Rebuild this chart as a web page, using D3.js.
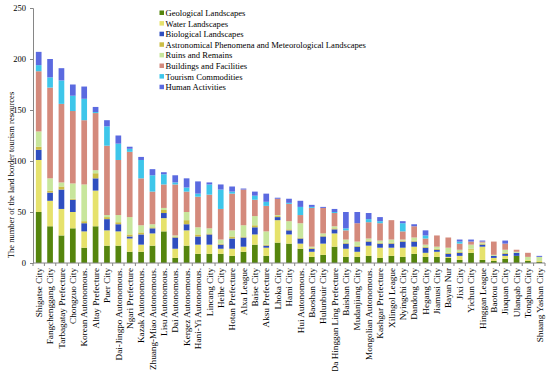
<!DOCTYPE html>
<html>
<head>
<meta charset="utf-8">
<script src="https://cdn.jsdelivr.net/npm/d3@7"></script>
<style>
  body { margin: 0; background: #fff; }
  text { font-family: "Liberation Serif", "Times New Roman", serif; fill: #000; }
</style>
</head>
<body>
<svg id="svg"></svg>
<script>
/**
 * DATA
 * */
const cities = ["Shigatse City", "Fangchenggang City", "Tarbagatay Prefecture", "Chongzuo City",
  "Korean Autonomous.", "Altay Prefecture", "Puer City", "Dai-Jingpo Autonomous.", "Ngari Prefecture",
  "Kazak Autonomous.", "Zhuang-Miao Autonomous.", "Lisu Autonomous.", "Dai Autonomous.",
  "Kergez Autonomous.", "Hani-Yi Autonomous.", "Lincang City", "Heihe City", "Hotan Prefecture",
  "Alxa League", "Baise City", "Aksu Prefecture", "Lhoka City", "Hami City", "Hui Autonomous.",
  "Baoshan City", "Hulunbuir City", "Da Hinggan Ling Prefecture", "Baishan City", "Mudanjiang City",
  "Mongolian Autonomous.", "Kashgar Prefecture", "Xilingol League", "Nyingchi City", "Dandong City",
  "Hegang City", "Jiamusi City", "Bayan Nur", "Jixi City", "Yichun City", "Hinggan League",
  "Baotou City", "Jiuquan City", "Ulanqab City", "Tonghua City", "Shuang Yashan City"];

const seriesNames = ["Geological Landscapes", "Water Landscapes", "Biological Landscapes",
  "Astronomical Phenomena and Meteorological Landscapes", "Ruins and Remains",
  "Buildings and Facilities", "Tourism Commodities", "Human Activities"];

const geological   = [50,36,27,34,15,36,17,17,11,11,17,31,5,17,9,9,9,7,11,18,7,20,19,14,6,8,16,6,6,7,5,7,6,9,6,6,5,3,10,3,2,4,7,2,1];
const water        = [51,25,26,16,16,35,15,14,13,7,12,13,9,15,9,9,5,7,5,10,8,22,9,5,5,11,13,8,5,10,10,8,9,7,4,5,1,4,3,13,3,3,0,1,1];
const biological   = [10,8,19,12,8,12,11,7,2,10,5,5,11,6,8,10,4,10,9,7,2,3,4,5,3,7,4,5,5,4,4,4,6,5,5,2,3,3,0,2,2,2,3,0,0];
const astronomical = [3,2,3,1,2,5,2,2,2,2,1,3,1,4,2,1,1,2,1,2,1,1,1,1,1,1,1,1,1,1,1,1,1,1,1,1,1,1,1,1,0,1,0,0,0];
const ruins        = [15,12,4,15,36,3,2,7,17,7,3,2,1,8,7,5,4,6,11,9,13,1,8,14,1,2,2,3,4,2,2,3,1,3,2,2,5,2,4,1,1,3,1,3,4];
const buildings    = [59,89,77,71,63,56,68,54,64,46,32,23,50,20,30,33,30,36,35,16,25,16,17,8,38,25,13,9,18,16,17,19,8,11,6,11,10,6,3,1,13,6,2,4,0];
const commodities  = [6,10,23,15,21,1,19,16,3,18,16,10,2,4,3,10,19,2,0,4,4,0,1,8,1,0,1,2,0,3,2,0,8,0,3,0,0,2,0,0,0,0,0,0,0];
const human        = [13,18,12,11,12,5,6,8,2,3,6,2,7,9,12,2,5,5,1,4,8,1,4,6,2,1,3,16,11,6,4,0,2,2,5,0,0,2,2,1,0,3,0,0,1];

const yTicks = [0, 50, 100, 150, 200, 250];
const colors = ["#55850d", "#e6e26c", "#2f4ec0", "#cbbd45", "#c8e69c", "#d48a7c", "#3ec6ea", "#5b6ae0"];

/**
 * CONSTANTS
 * */
const width = 550,
  height = 371,
  margin = { top: 8, bottom: 108, left: 33, right: 5 };

const columns = [geological, water, biological, astronomical, ruins, buildings, commodities, human];
const table = cities.map((c, i) => {
  const row = { city: c };
  seriesNames.forEach((s, j) => row[s] = columns[j][i]);
  return row;
});

const svg = d3.select("#svg")
  .attr("width", width)
  .attr("height", height);

const xScale = d3.scaleBand()
  .domain(cities)
  .range([margin.left, width - margin.right])
  .paddingInner(0.5)
  .paddingOuter(0.25);

const yScale = d3.scaleLinear()
  .domain([0, 250])
  .range([height - margin.bottom, margin.top]);

const stacked = d3.stack().keys(seriesNames)(table);

// bars
svg.append("g")
  .selectAll("g")
  .data(stacked)
  .join("g")
  .attr("fill", (d, i) => colors[i])
  .selectAll("rect")
  .data(d => d)
  .join("rect")
  .attr("x", d => xScale(d.data.city))
  .attr("width", xScale.bandwidth())
  .attr("y", d => yScale(d[1]))
  .attr("height", d => yScale(d[0]) - yScale(d[1]));

// y axis
const yAxis = svg.append("g")
  .attr("transform", `translate(${margin.left},0)`)
  .call(d3.axisLeft(yScale).tickValues(yTicks).tickSize(3).tickPadding(4));
yAxis.select(".domain").attr("stroke", "#868686");
yAxis.selectAll(".tick line").attr("stroke", "#868686");
yAxis.selectAll("text")
  .style("font-size", "8.5px")
  .style("font-family", "Liberation Serif, serif");

// x axis, ticks sit between categories
const x0 = margin.left, x1 = width - margin.right, yBase = yScale(0);
svg.append("line")
  .attr("x1", x0).attr("x2", x1)
  .attr("y1", yBase).attr("y2", yBase)
  .attr("stroke", "#868686");

svg.append("g")
  .selectAll("line")
  .data(d3.range(cities.length + 1))
  .join("line")
  .attr("x1", i => x0 + i * xScale.step())
  .attr("x2", i => x0 + i * xScale.step())
  .attr("y1", yBase)
  .attr("y2", yBase + 3)
  .attr("stroke", "#868686");

svg.append("g")
  .selectAll("text")
  .data(cities)
  .join("text")
  .attr("transform", d => `translate(${xScale(d) + xScale.bandwidth() / 2 + 3.2},${yBase + 5}) rotate(-90)`)
  .attr("text-anchor", "end")
  .style("font-size", "9.2px")
  .text(d => d);

// y axis title
svg.append("text")
  .attr("transform", "translate(14,175) rotate(-90)")
  .attr("text-anchor", "middle")
  .style("font-size", "8.5px")
  .text("The number of  the land border tourism resources");

// legend
const legend = svg.append("g")
  .attr("transform", "translate(159.5,13)")
  .selectAll("g")
  .data(seriesNames)
  .join("g")
  .attr("transform", (d, i) => `translate(0,${i * 10.6})`);

legend.append("rect")
  .attr("x", 0).attr("y", -2.5)
  .attr("width", 4.5).attr("height", 4.5)
  .attr("fill", (d, i) => colors[i]);

legend.append("text")
  .attr("x", 6)
  .attr("y", 3)
  .style("font-size", "8.6px")
  .text(d => d);
</script>
</body>
</html>
